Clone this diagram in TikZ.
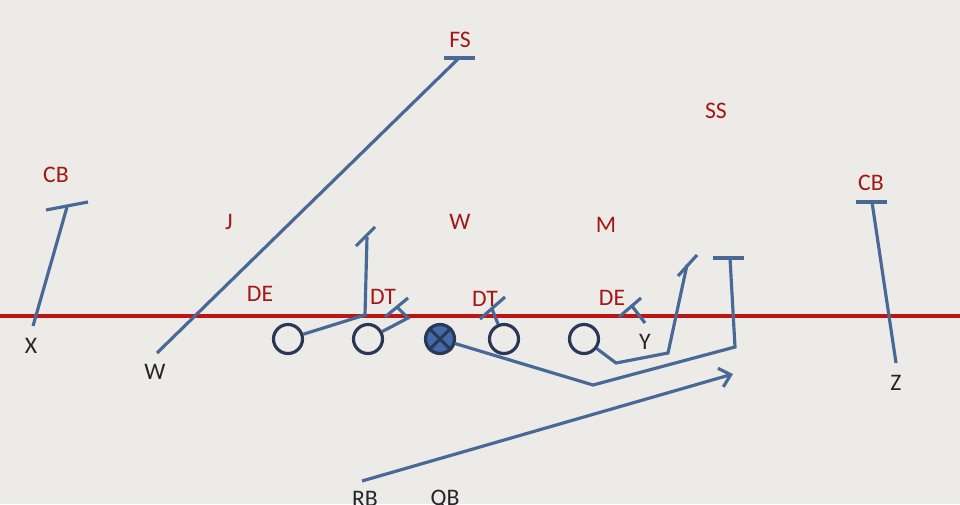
\documentclass[tikz,border=0pt]{standalone}
\usepackage{fontspec}
\setmainfont{Carlito}
\usetikzlibrary{arrows.meta}
\definecolor{field}{RGB}{236,235,232}
\definecolor{scrimmage}{RGB}{190,20,20}
\definecolor{defred}{RGB}{165,22,22}
\definecolor{routeblue}{RGB}{72,104,150}
\definecolor{manline}{RGB}{40,56,86}
\definecolor{manfill}{RGB}{66,106,168}
\tikzset{
  player/.style={circle,draw=manline,line width=1.8pt,minimum size=0.58cm,inner sep=0pt},
  defender/.style={text=defred,font=\fontsize{13.5}{14}\selectfont},
  receiver/.style={text=black!85,font=\fontsize{13.5}{14}\selectfont},
  routeline/.style={draw=routeblue,line width=1.8pt},
}
\begin{document}
\begin{tikzpicture}[x=0.02cm,y=-0.02cm]
      \fill[field] (0,0) rectangle (960,504);
      \useasboundingbox (0,0) rectangle (960,504);
      \draw[scrimmage,line width=2.2pt] (0,316) -- (960,316);
      % defense
      \node[defender] (fs) at (460,40) {FS};
      \node[defender] (ss) at (716,111) {SS};
      \node[defender] (cbl) at (56,175) {CB};
      \node[defender] (cbr) at (871,183) {CB};
      \node[defender] (j) at (229,222) {J};
      \node[defender] (w) at (460,222) {W};
      \node[defender] (m) at (606,225) {M};
      \node[defender] (del) at (260,294) {DE};
      \node[defender] (dtl) at (383,297) {DT};
      \node[defender] (dtr) at (485,299) {DT};
      \node[defender] (der) at (612,298) {DE};
      % offense
      \node[receiver] (x) at (31,346) {X};
      \node[receiver] (wr) at (155,372) {W};
      \node[receiver] (y) at (645,342) {Y};
      \node[receiver] (z) at (896,383) {Z};
      \node[receiver] (rb) at (365,499) {RB};
      \node[receiver] (qb) at (445,499) {QB};
      \node[player] (0) at (288,339) {};
      \node[player] (1) at (368,339) {};
      \node[player,fill=manfill] (2) at (440,339) {};
      \node[player] (3) at (504,339) {};
      \node[player] (4) at (584,339) {};
      \draw[manline,line width=1.8pt] (2.45) -- (2.225) (2.135) -- (2.315);
      % route points
      \coordinate (x0) at (33,326);
      \coordinate (x1) at (67,207);
      \coordinate (w0) at (157,353);
      \coordinate (w1) at (459,58);
      \coordinate (a1) at (365,315);
      \coordinate (a2) at (367,237);
      \coordinate (b1) at (408,318);
      \coordinate (b2) at (397,307);
      \coordinate (c1) at (593,385);
      \coordinate (c2) at (735,347);
      \coordinate (c3) at (730,258);
      \coordinate (d1) at (492,309);
      \coordinate (e1) at (616,363);
      \coordinate (e2) at (668,353);
      \coordinate (e3) at (687,265);
      \coordinate (y0) at (645,323);
      \coordinate (y1) at (632,306);
      \coordinate (z0) at (896,363);
      \coordinate (z1) at (872,202);
      \coordinate (r0) at (362,481);
      \coordinate (r1) at (733,374);
      \begin{scope}[routeline]
        \draw (x0) -- (x1);
        \draw (46,210) -- (88,202);
        \draw (w0) -- (w1);
        \draw (444,58) -- (475,58);
        \draw (0) -- (a1) -- (a2);
        \draw (356,246) -- (375,227);
        \draw (1) -- (b1) -- (b2);
        \draw (385,317) -- (408,298);
        \draw (2) -- (c1) -- (c2) -- (c3);
        \draw (713,258) -- (744,258);
        \draw (3) -- (d1);
        \draw (480,319) -- (505,297);
        \draw (4) -- (e1) -- (e2) -- (e3);
        \draw (678,276) -- (697,255);
        \draw (y0) -- (y1);
        \draw (619,317) -- (641,298);
        \draw (z0) -- (z1);
        \draw (856,202) -- (887,202);
        \draw[-{Straight Barb[length=6pt,width=11pt]}] (r0) -- (r1);
      \end{scope}
    \end{tikzpicture}
\end{document}
